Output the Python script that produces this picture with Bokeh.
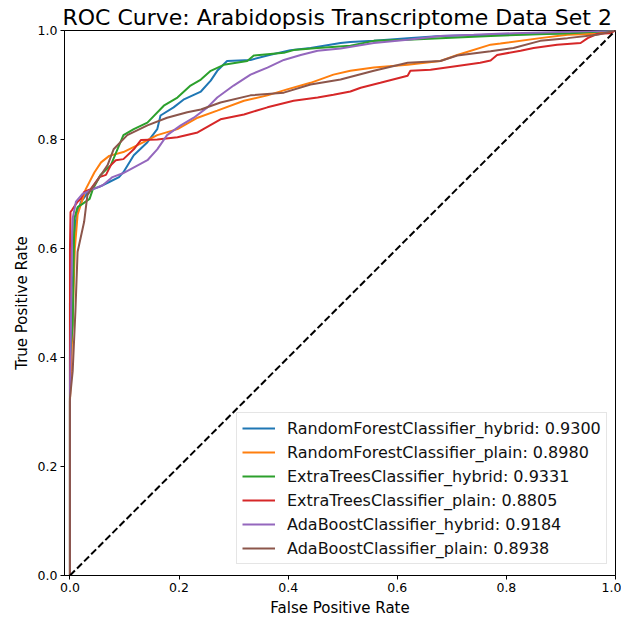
from bokeh.plotting import figure
from bokeh.models import Legend, LegendItem, FixedTicker, Range1d
from bokeh.embed import file_html
from bokeh.resources import INLINE

title = "ROC Curve: Arabidopsis Transcriptome Data Set 2"
x_label = "False Positive Rate"
y_label = "True Positive Rate"
ticks = [0.0, 0.2, 0.4, 0.6, 0.8, 1.0]
tick_labels = ["0.0", "0.2", "0.4", "0.6", "0.8", "1.0"]

names = ["RandomForestClassifier_hybrid", "RandomForestClassifier_plain",
         "ExtraTreesClassifier_hybrid", "ExtraTreesClassifier_plain",
         "AdaBoostClassifier_hybrid", "AdaBoostClassifier_plain"]
aucs = [0.9300, 0.8980, 0.9331, 0.8805, 0.9184, 0.8938]
colors = ["#1f77b4", "#ff7f0e", "#2ca02c", "#d62728", "#9467bd", "#8c564b"]

rf_hybrid_fpr = [0.0, 0.0, 0.006, 0.008, 0.012, 0.020, 0.036, 0.054, 0.072, 0.090, 0.098, 0.117,
                 0.142, 0.160, 0.166, 0.190, 0.208, 0.240, 0.258, 0.270, 0.288, 0.331, 0.362,
                 0.404, 0.441, 0.496, 0.514, 0.557, 0.619, 0.679, 0.771, 0.917, 1.0]
rf_hybrid_tpr = [0.0, 0.50, 0.55, 0.62, 0.66, 0.685, 0.707, 0.713, 0.722, 0.731, 0.740, 0.771,
                 0.795, 0.819, 0.844, 0.859, 0.873, 0.888, 0.908, 0.926, 0.944, 0.946, 0.954,
                 0.964, 0.968, 0.977, 0.979, 0.981, 0.986, 0.990, 0.992, 0.995, 1.0]

rf_plain_fpr = [0.0, 0.0, 0.002, 0.009, 0.014, 0.029, 0.045, 0.057, 0.072, 0.098, 0.135, 0.160,
                0.197, 0.234, 0.270, 0.319, 0.362, 0.398, 0.441, 0.483, 0.514, 0.557, 0.619,
                0.679, 0.710, 0.771, 0.789, 0.862, 0.912, 0.967, 1.0]
rf_plain_tpr = [0.0, 0.32, 0.375, 0.600, 0.662, 0.709, 0.740, 0.758, 0.770, 0.777, 0.795, 0.808,
                0.819, 0.840, 0.853, 0.871, 0.881, 0.892, 0.904, 0.919, 0.926, 0.932, 0.937,
                0.944, 0.955, 0.974, 0.976, 0.986, 0.992, 0.994, 1.0]

et_hybrid_fpr = [0.0, 0.0, 0.005, 0.008, 0.014, 0.023, 0.036, 0.042, 0.056, 0.075, 0.087, 0.098,
                 0.117, 0.142, 0.172, 0.197, 0.221, 0.240, 0.258, 0.282, 0.325, 0.337, 0.392,
                 0.410, 0.454, 0.514, 0.557, 0.619, 0.679, 0.771, 0.917, 1.0]
et_hybrid_tpr = [0.0, 0.40, 0.46, 0.655, 0.676, 0.682, 0.691, 0.709, 0.735, 0.753, 0.782, 0.808,
                 0.819, 0.831, 0.862, 0.877, 0.899, 0.910, 0.926, 0.937, 0.944, 0.954, 0.959,
                 0.964, 0.968, 0.972, 0.981, 0.983, 0.986, 0.990, 0.995, 1.0]

et_plain_fpr = [0.0, 0.0, 0.001, 0.004, 0.014, 0.020, 0.026, 0.038, 0.054, 0.066, 0.075, 0.084,
                0.098, 0.117, 0.130, 0.160, 0.197, 0.234, 0.255, 0.276, 0.319, 0.362, 0.410,
                0.454, 0.483, 0.514, 0.533, 0.569, 0.619, 0.624, 0.661, 0.710, 0.752, 0.771,
                0.783, 0.826, 0.850, 0.893, 0.936, 0.949, 0.967, 0.991, 1.0]
et_plain_tpr = [0.0, 0.60, 0.667, 0.671, 0.686, 0.691, 0.704, 0.709, 0.731, 0.735, 0.753, 0.762,
                0.764, 0.782, 0.799, 0.800, 0.804, 0.813, 0.825, 0.837, 0.846, 0.859, 0.871,
                0.877, 0.882, 0.888, 0.895, 0.904, 0.917, 0.926, 0.928, 0.935, 0.941, 0.945,
                0.955, 0.963, 0.968, 0.974, 0.977, 0.986, 0.994, 0.995, 1.0]

ada_hybrid_fpr = [0.0, 0.0, 0.004, 0.005, 0.011, 0.023, 0.042, 0.060, 0.078, 0.097, 0.142, 0.160,
                  0.178, 0.203, 0.227, 0.252, 0.270, 0.300, 0.331, 0.362, 0.392, 0.423, 0.454,
                  0.496, 0.557, 0.619, 0.679, 0.740, 0.813, 1.0]
ada_hybrid_tpr = [0.0, 0.32, 0.631, 0.655, 0.686, 0.700, 0.709, 0.716, 0.731, 0.738, 0.762, 0.782,
                  0.808, 0.826, 0.840, 0.859, 0.877, 0.899, 0.919, 0.932, 0.946, 0.955, 0.963,
                  0.967, 0.977, 0.983, 0.990, 0.992, 0.995, 1.0]

ada_plain_fpr = [0.0, 0.0, 0.005, 0.010, 0.014, 0.026, 0.032, 0.069, 0.080, 0.105, 0.142, 0.178,
                 0.215, 0.240, 0.276, 0.331, 0.392, 0.441, 0.496, 0.557, 0.619, 0.679, 0.710,
                 0.771, 0.813, 0.862, 0.912, 0.967, 1.0]
ada_plain_tpr = [0.0, 0.325, 0.375, 0.485, 0.594, 0.649, 0.698, 0.753, 0.782, 0.808, 0.826, 0.840,
                 0.850, 0.855, 0.868, 0.881, 0.886, 0.901, 0.910, 0.926, 0.941, 0.944, 0.954,
                 0.962, 0.968, 0.981, 0.986, 0.992, 1.0]

chance_x = [0.0, 1.0]
chance_y = [0.0, 1.0]

series = [(rf_hybrid_fpr, rf_hybrid_tpr), (rf_plain_fpr, rf_plain_tpr),
          (et_hybrid_fpr, et_hybrid_tpr), (et_plain_fpr, et_plain_tpr),
          (ada_hybrid_fpr, ada_hybrid_tpr), (ada_plain_fpr, ada_plain_tpr)]

FONT = "DejaVu Sans"

p = figure(width=621, height=619, output_backend="svg", toolbar_location=None,
           x_range=Range1d(-0.01, 1.0), y_range=Range1d(0.0, 1.0),
           min_border_left=64, min_border_right=6, min_border_top=30, min_border_bottom=43)

p.title.text = title
p.title.text_font = FONT
p.title.text_font_size = "22px"
p.title.text_font_style = "normal"
p.title.text_color = "black"
p.title.align = "left"
p.title.offset = -2
p.title.standoff = 2

p.background_fill_color = "white"
p.border_fill_color = "white"
p.outline_line_color = "black"
p.outline_line_width = 1
p.xgrid.visible = False
p.ygrid.visible = False

for ax, lab in ((p.xaxis, x_label), (p.yaxis, y_label)):
    ax.ticker = FixedTicker(ticks=ticks)
    ax.major_label_overrides = {t: l for t, l in zip(ticks, tick_labels)}
    ax.axis_label = lab
    ax.axis_label_text_font = FONT
    ax.axis_label_text_font_size = "15px"
    ax.axis_label_text_font_style = "normal"
    ax.axis_label_text_color = "black"
    ax.major_label_text_font = FONT
    ax.major_label_text_font_size = "12.5px"
    ax.major_label_text_color = "black"
    ax.minor_tick_line_color = None
    ax.major_tick_in = 0
    ax.major_tick_out = 4
    ax.major_tick_line_color = "black"
    ax.axis_line_color = "black"
    ax.major_label_standoff = 3
    ax.axis_label_standoff = 4

items = []
for (fx, ty), name, auc, col in zip(series, names, aucs, colors):
    r = p.line(fx, ty, line_color=col, line_width=2)
    items.append(LegendItem(label=f"{name}: {auc:.4f}", renderers=[r]))

p.line(chance_x, chance_y, line_color="black", line_width=2, line_dash="7 3")

legend = Legend(items=items, location=(172, 11))
legend.label_text_font = FONT
legend.label_text_font_size = "16px"
legend.label_text_color = "#111111"
legend.glyph_width = 33
legend.glyph_height = 20
legend.label_height = 20
legend.spacing = 4
legend.padding = 5
legend.margin = 0
legend.label_standoff = 12
legend.border_line_color = "#cccccc"
legend.border_line_width = 1
legend.background_fill_alpha = 0.85
p.add_layout(legend)

open("out.html", "w").write(file_html(p, INLINE))
